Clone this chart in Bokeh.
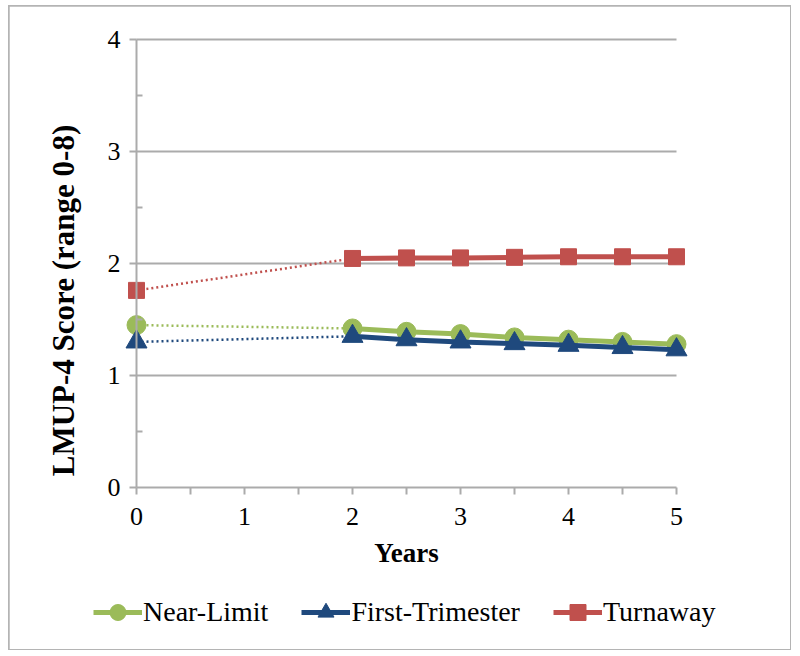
from bokeh.plotting import figure
from bokeh.models import Range1d, FixedTicker, Legend, LegendItem, LinearAxis
from bokeh.embed import file_html
from bokeh.resources import INLINE

years = [0, 2, 2.5, 3, 3.5, 4, 4.5, 5]
near_limit = [1.45, 1.42, 1.39, 1.37, 1.34, 1.32, 1.30, 1.28]
first_trimester = [1.30, 1.35, 1.32, 1.30, 1.285, 1.27, 1.25, 1.23]
turnaway = [1.76, 2.045, 2.05, 2.05, 2.055, 2.06, 2.06, 2.06]

series_names = ["Near-Limit", "First-Trimester", "Turnaway"]
x_ticks = [0, 1, 2, 3, 4, 5]
x_minor = [0.5, 1.5, 2.5, 3.5, 4.5]
y_ticks = [0, 1, 2, 3, 4]
y_minor = [0.5, 1.5, 2.5, 3.5]

FONT = "Liberation Serif"
GRID = "#ababab"

# layout geometry (figure pixels)
W, H = 781, 643
MB_L, MB_R, MB_T, MB_B = 2, 2, 4, 3
X0_PX, PX_PER_X = 127.0, 108.0      # where x=0 sits, pixels per year
Y0_PX, PX_PER_Y = 481.0, 112.0      # where y=0 sits (from top), pixels per unit
fx0, fx1 = MB_L, W - MB_R
fy0, fy1 = MB_T, H - MB_B
x_range = Range1d((fx0 - X0_PX) / PX_PER_X, (fx1 - X0_PX) / PX_PER_X)
y_range = Range1d((Y0_PX - fy1) / PX_PER_Y, (Y0_PX - fy0) / PX_PER_Y)

p = figure(width=W, height=H, output_backend="svg", toolbar_location=None,
           x_range=x_range, y_range=y_range,
           min_border_left=MB_L, min_border_right=MB_R,
           min_border_top=MB_T, min_border_bottom=MB_B)
p.margin = (6, 0, 0, 9)
p.styles = {"outline": "2px solid #b4b4b4", "outline-offset": "-1px"}
p.outline_line_color = None
p.background_fill_color = "white"
p.border_fill_color = "white"

# grid lines drawn from the tick values, spanning the data years
p.xgrid.visible = False
p.ygrid.visible = False
p.segment(x0=x_ticks[0], x1=x_ticks[-1], y0=y_ticks[1:], y1=y_ticks[1:],
          line_color=GRID, line_width=2)

# axes
p.xaxis.ticker = FixedTicker(ticks=x_ticks, minor_ticks=x_minor)
p.yaxis.ticker = FixedTicker(ticks=y_ticks, minor_ticks=y_minor)
for ax in (p.xaxis[0], p.yaxis[0]):
    ax.axis_line_color = GRID
    ax.axis_line_width = 2
    ax.major_tick_line_color = GRID
    ax.major_tick_line_width = 2
    ax.minor_tick_line_color = GRID
    ax.minor_tick_line_width = 2
    ax.major_label_text_font = FONT
    ax.major_label_text_font_size = "26px"
    ax.major_label_text_color = "black"
    ax.axis_label_text_font = FONT
    ax.axis_label_text_font_style = "bold"
    ax.axis_label_text_color = "black"

p.xaxis.fixed_location = y_ticks[0]
p.xaxis.bounds = (x_ticks[0], x_ticks[-1])
p.xaxis.major_tick_out = 7
p.xaxis.major_tick_in = 0
p.xaxis.minor_tick_out = 7
p.xaxis.minor_tick_in = 0
p.xaxis.major_label_standoff = 13
p.xaxis.axis_label = "Years"
p.xaxis.axis_label_text_font_size = "27px"
p.xaxis.axis_label_standoff = 10

p.yaxis.fixed_location = x_ticks[0]
p.yaxis.bounds = (y_ticks[0], y_ticks[-1])
p.yaxis.major_tick_out = 7
p.yaxis.major_tick_in = 0
p.yaxis.minor_tick_out = 0
p.yaxis.minor_tick_in = 6
p.yaxis.major_label_standoff = 9

# separate axis carrying only the y title (placed lower, as in the original)
title_axis = LinearAxis(fixed_location=x_ticks[0], bounds=(-0.66, 4),
                        ticker=FixedTicker(ticks=[], minor_ticks=[]),
                        axis_line_color=None, major_tick_line_color=None,
                        minor_tick_line_color=None, major_tick_out=0,
                        major_tick_in=0, minor_tick_out=0, minor_tick_in=0,
                        major_label_standoff=0,
                        axis_label="LMUP-4 Score (range 0-8)",
                        axis_label_text_font=FONT,
                        axis_label_text_font_style="bold",
                        axis_label_text_font_size="31px",
                        axis_label_text_color="black",
                        axis_label_standoff=56)
p.add_layout(title_axis, "left")

colors = ["#9BBB59", "#1F497D", "#C0504D"]
markers = ["circle", "triangle", "square"]
sizes = [19, 21, 16]
values = [near_limit, first_trimester, turnaway]

items = []
for name, vals, col, mk, sz in zip(series_names, values, colors, markers, sizes):
    p.line(years[:2], vals[:2], line_color=col, line_width=2.5, line_dash="2 3")
    solid = p.line(years[1:], vals[1:], line_color=col, line_width=5)
    sc = p.scatter(years, vals, marker=mk, size=sz, fill_color=col, line_color=col)
    items.append(LegendItem(label=name, renderers=[solid, sc]))

legend = Legend(items=items, orientation="horizontal", location=(82, 14),
                border_line_color=None, background_fill_alpha=0,
                label_text_font=FONT, label_text_font_size="28px",
                label_text_color="black",
                glyph_width=49, glyph_height=40, label_standoff=1,
                spacing=33, padding=0, margin=0)
p.add_layout(legend, "center")

open("out.html", "w").write(file_html(p, INLINE))
